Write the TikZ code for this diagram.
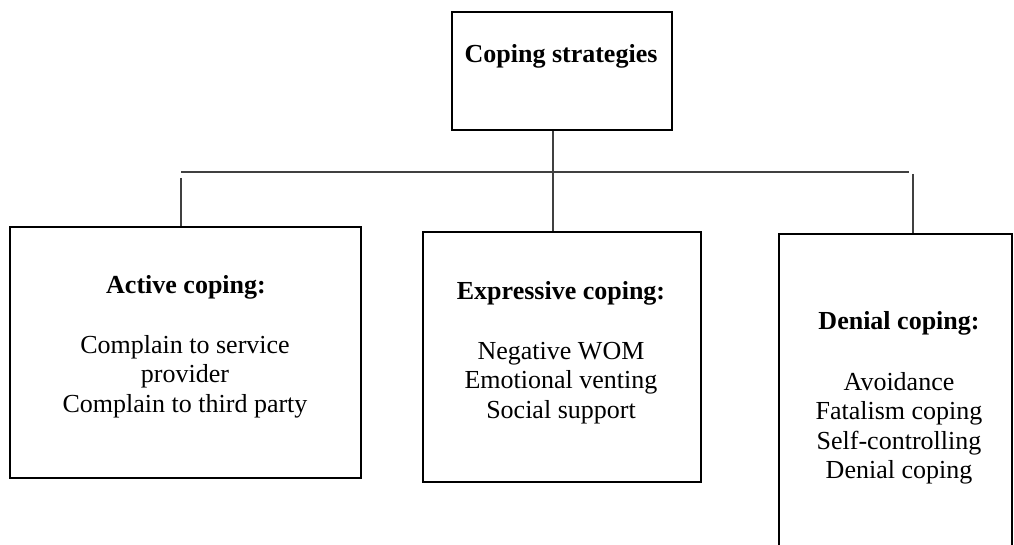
\documentclass[tikz,border=0pt]{standalone}
\usepackage{fontspec}
\setmainfont{Liberation Serif}
\begin{document}
\begin{tikzpicture}[x=1pt,y=-1pt,
  box/.style={draw=black, line width=2.4pt, rectangle, inner sep=0pt},
  conn/.style={draw=black!75, line width=1.4pt},
  txt/.style={font=\fontsize{26}{29.5}\selectfont, align=center, inner sep=0pt, anchor=base},
  head/.style={txt, font=\fontsize{26}{29.5}\selectfont\bfseries}]
\useasboundingbox (0,0) rectangle (1014,545);
\clip (0,0) rectangle (1014,545);
% boxes
\node[box, minimum width=220pt, minimum height=118pt] (top) at (562,71) {};
\node[box, minimum width=351pt, minimum height=251pt] (left) at (185.5,352.5) {};
\node[box, minimum width=278pt, minimum height=250pt] (mid) at (562,357) {};
\node[box, minimum width=233pt, minimum height=366pt] (right) at (895.5,417) {};
% texts (multi-line nodes: base anchor = baseline of last line)
\node[head] (toptxt) at (561,63) {Coping strategies};
\node[head] (lefthead) at (186,294) {Active coping:};
\node[txt] (leftlist) at (185,412) {Complain to service\\provider\\Complain to third party};
\node[head] (midhead) at (561,299) {Expressive coping:};
\node[txt] (midlist) at (561,418) {Negative WOM\\Emotional venting\\Social support};
\node[head] (righthead) at (899,329) {Denial coping:};
\node[txt] (rightlist) at (899,478.5) {Avoidance\\Fatalism coping\\Self-controlling\\Denial coping};
% connectors
\coordinate (j1) at (553,172);
\coordinate (hl) at (181,172);
\coordinate (hr) at (909,172);
\coordinate (vl) at (181,178);
\coordinate (vr) at (913,174);
\draw[conn] (j1 |- top.south) -- (j1 |- mid.north);
\draw[conn] (hl) -- (hr);
\draw[conn] (vl) -- (vl |- left.north);
\draw[conn] (vr) -- (vr |- right.north);
\end{tikzpicture}
\end{document}
